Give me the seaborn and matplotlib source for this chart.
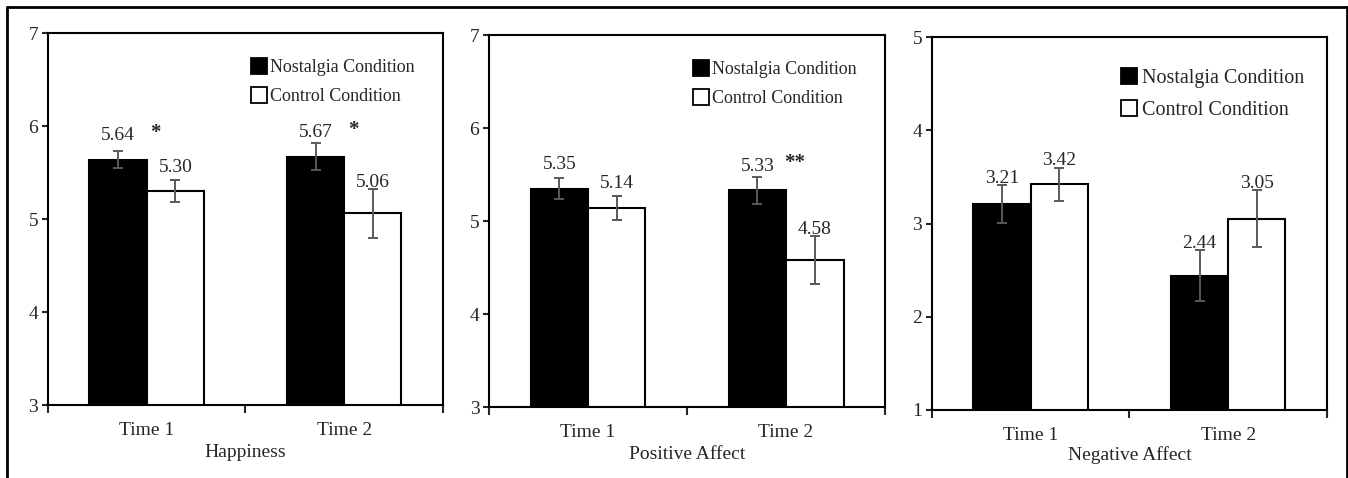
import numpy as np
import pandas as pd
import seaborn as sns
from matplotlib import pyplot as plt
from matplotlib.lines import Line2D

# %% Data
times = ['Time 1', 'Time 2']
conditions = ['Nostalgia Condition', 'Control Condition']
panels = ['Happiness', 'Positive Affect', 'Negative Affect']

happy_nost = [5.64, 5.67]
happy_nost_err = [0.09, 0.145]
happy_ctrl = [5.30, 5.06]
happy_ctrl_err = [0.12, 0.26]

pos_nost = [5.35, 5.33]
pos_nost_err = [0.11, 0.145]
pos_ctrl = [5.14, 4.58]
pos_ctrl_err = [0.125, 0.26]

neg_nost = [3.21, 2.44]
neg_nost_err = [0.205, 0.275]
neg_ctrl = [3.42, 3.05]
neg_ctrl_err = [0.18, 0.305]

happy_stars = ['*', '*']
pos_stars = ['', '**']
neg_stars = ['', '']

y_ranges = [(3, 7), (3, 7), (1, 5)]

# %% Style
sns.set_style('white')
plt.rcParams['font.family'] = ['Liberation Serif', 'DejaVu Serif']
plt.rcParams['axes.linewidth'] = 1.5

fig = plt.figure(figsize=(13.48, 4.78), dpi=100)

# outer frame (open at the bottom)
fig.add_artist(Line2D([0.005, 0.999], [0.985, 0.985], color='k', lw=2))
fig.add_artist(Line2D([0.005, 0.005], [0.985, 0.0], color='k', lw=2))
fig.add_artist(Line2D([0.999, 0.999], [0.985, 0.0], color='k', lw=2))

AxRects = [[0.0356, 0.1527, 0.2930, 0.7780],
           [0.3628, 0.1485, 0.2938, 0.7780],
           [0.6914, 0.1423, 0.2930, 0.7800]]

PanelData = [(happy_nost, happy_nost_err, happy_ctrl, happy_ctrl_err, happy_stars),
             (pos_nost, pos_nost_err, pos_ctrl, pos_ctrl_err, pos_stars),
             (neg_nost, neg_nost_err, neg_ctrl, neg_ctrl_err, neg_stars)]

LegendFont = [13, 13, 14.5]
LegendAnchor = [(0.515, 0.93), (0.515, 0.93), (0.477, 0.915)]
XLabelPad = [3, 3, 1]
FontSz = 14

for ip, (name, (nost, nerr, ctrl, cerr, stars)) in enumerate(zip(panels, PanelData)):
    ax = fig.add_axes(AxRects[ip])
    dfData = pd.DataFrame({'Time': times * 2,
                           'Condition': [conditions[0]] * 2 + [conditions[1]] * 2,
                           'Value': nost + ctrl,
                           'Err': nerr + cerr})
    sns.barplot(data=dfData, x='Time', y='Value', hue='Condition',
                hue_order=conditions, order=times,
                palette=['black', 'white'], saturation=1,
                edgecolor='black', linewidth=1.5, width=0.58,
                legend=False, ax=ax)

    # error bars and value labels
    for cont, cond in zip(ax.containers, conditions):
        errs = dfData.query("Condition == @cond")['Err'].values
        for bar, e in zip(cont, errs):
            xc = bar.get_x() + bar.get_width() / 2
            h = bar.get_height()
            ax.errorbar(xc, h, yerr=e, color='#5a5a5a', capsize=3.5,
                        elinewidth=1.4, capthick=1.4, zorder=5)
            ylab = max(h + 0.29, h + e + 0.1) - 0.03
            ax.text(xc, ylab, f'{h:.2f}', ha='center', va='center',
                    fontsize=FontSz, zorder=6)

    # significance stars
    for i, st in enumerate(stars):
        if st:
            ax.text(i + 0.045, nost[i] + 0.29, st, ha='center', va='center',
                    fontsize=15, fontweight='bold')

    ymin, ymax = y_ranges[ip]
    ax.set_ylim(ymin, ymax)
    ax.set_yticks(np.arange(ymin, ymax + 1, 1))
    ax.set_xlim(-0.5, 1.5)
    ax.set_xticks([-0.5, 0.5, 1.5])
    ax.set_xticklabels([])
    ax.set_xticks([0, 1], minor=True)
    ax.set_xticklabels(times, minor=True, fontsize=FontSz)
    ax.tick_params(axis='x', which='major', direction='out', length=6,
                   width=1.5, bottom=True)
    ax.tick_params(axis='x', which='minor', length=0, pad=12.5)
    ax.tick_params(axis='y', direction='out', length=4, width=1.5,
                   left=True, labelsize=FontSz, pad=3)
    for sp in ax.spines.values():
        sp.set_visible(True)
        sp.set_color('black')
        sp.set_linewidth(1.5)
    ax.set_xlabel(name, fontsize=FontSz, labelpad=XLabelPad[ip])
    ax.set_ylabel('')

    handles = [Line2D([], [], marker='s', ls='', markersize=12,
                      markerfacecolor=fc, markeredgecolor='black',
                      markeredgewidth=1.3)
               for fc in ['black', 'white']]
    ax.legend(handles, conditions, loc='upper left',
              bbox_to_anchor=LegendAnchor[ip], frameon=False,
              fontsize=LegendFont[ip], handletextpad=0.2,
              handlelength=0.85, labelspacing=0.65, borderaxespad=0,
              borderpad=0)

fig.savefig('out.png', dpi=100)
